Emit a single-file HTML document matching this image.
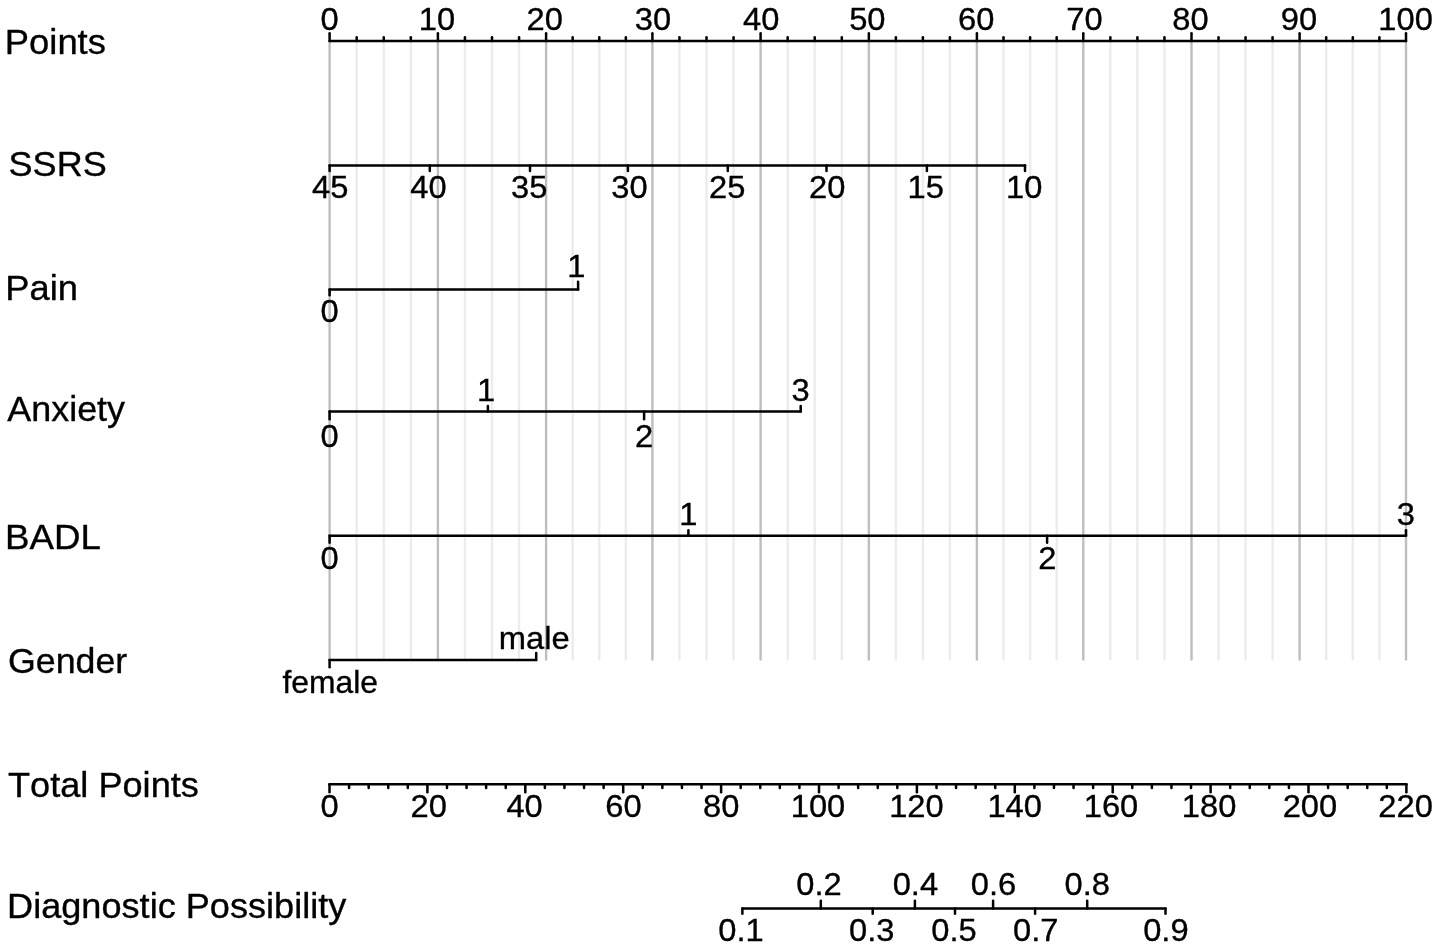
<!DOCTYPE html>
<html><head><meta charset="utf-8"><title>Nomogram</title>
<style>html,body{margin:0;padding:0;background:#fff;overflow:hidden;}svg{display:block;}
text{font-family:"Liberation Sans",Arial,sans-serif;font-kerning:none;fill:#000;stroke:#000;stroke-width:0.35px;}</style></head>
<body><svg width="1441" height="949" viewBox="0 0 1441 949">
<rect width="1441" height="949" fill="#fff"/>
<line x1="356.68" y1="41.00" x2="356.68" y2="659.40" stroke="#ececec" stroke-width="2.4" stroke-linecap="round"/>
<line x1="383.75" y1="41.00" x2="383.75" y2="659.40" stroke="#ececec" stroke-width="2.4" stroke-linecap="round"/>
<line x1="410.82" y1="41.00" x2="410.82" y2="659.40" stroke="#ececec" stroke-width="2.4" stroke-linecap="round"/>
<line x1="464.95" y1="41.00" x2="464.95" y2="659.40" stroke="#ececec" stroke-width="2.4" stroke-linecap="round"/>
<line x1="492.00" y1="41.00" x2="492.00" y2="659.40" stroke="#ececec" stroke-width="2.4" stroke-linecap="round"/>
<line x1="519.05" y1="41.00" x2="519.05" y2="659.40" stroke="#ececec" stroke-width="2.4" stroke-linecap="round"/>
<line x1="572.67" y1="41.00" x2="572.67" y2="659.40" stroke="#ececec" stroke-width="2.4" stroke-linecap="round"/>
<line x1="599.25" y1="41.00" x2="599.25" y2="659.40" stroke="#ececec" stroke-width="2.4" stroke-linecap="round"/>
<line x1="625.83" y1="41.00" x2="625.83" y2="659.40" stroke="#ececec" stroke-width="2.4" stroke-linecap="round"/>
<line x1="679.45" y1="41.00" x2="679.45" y2="659.40" stroke="#ececec" stroke-width="2.4" stroke-linecap="round"/>
<line x1="706.50" y1="41.00" x2="706.50" y2="659.40" stroke="#ececec" stroke-width="2.4" stroke-linecap="round"/>
<line x1="733.55" y1="41.00" x2="733.55" y2="659.40" stroke="#ececec" stroke-width="2.4" stroke-linecap="round"/>
<line x1="787.66" y1="41.00" x2="787.66" y2="659.40" stroke="#ececec" stroke-width="2.4" stroke-linecap="round"/>
<line x1="814.73" y1="41.00" x2="814.73" y2="659.40" stroke="#ececec" stroke-width="2.4" stroke-linecap="round"/>
<line x1="841.79" y1="41.00" x2="841.79" y2="659.40" stroke="#ececec" stroke-width="2.4" stroke-linecap="round"/>
<line x1="895.86" y1="41.00" x2="895.86" y2="659.40" stroke="#ececec" stroke-width="2.4" stroke-linecap="round"/>
<line x1="922.88" y1="41.00" x2="922.88" y2="659.40" stroke="#ececec" stroke-width="2.4" stroke-linecap="round"/>
<line x1="949.89" y1="41.00" x2="949.89" y2="659.40" stroke="#ececec" stroke-width="2.4" stroke-linecap="round"/>
<line x1="1003.50" y1="41.00" x2="1003.50" y2="659.40" stroke="#ececec" stroke-width="2.4" stroke-linecap="round"/>
<line x1="1030.10" y1="41.00" x2="1030.10" y2="659.40" stroke="#ececec" stroke-width="2.4" stroke-linecap="round"/>
<line x1="1056.70" y1="41.00" x2="1056.70" y2="659.40" stroke="#ececec" stroke-width="2.4" stroke-linecap="round"/>
<line x1="1110.35" y1="41.00" x2="1110.35" y2="659.40" stroke="#ececec" stroke-width="2.4" stroke-linecap="round"/>
<line x1="1137.40" y1="41.00" x2="1137.40" y2="659.40" stroke="#ececec" stroke-width="2.4" stroke-linecap="round"/>
<line x1="1164.45" y1="41.00" x2="1164.45" y2="659.40" stroke="#ececec" stroke-width="2.4" stroke-linecap="round"/>
<line x1="1218.53" y1="41.00" x2="1218.53" y2="659.40" stroke="#ececec" stroke-width="2.4" stroke-linecap="round"/>
<line x1="1245.55" y1="41.00" x2="1245.55" y2="659.40" stroke="#ececec" stroke-width="2.4" stroke-linecap="round"/>
<line x1="1272.57" y1="41.00" x2="1272.57" y2="659.40" stroke="#ececec" stroke-width="2.4" stroke-linecap="round"/>
<line x1="1326.20" y1="41.00" x2="1326.20" y2="659.40" stroke="#ececec" stroke-width="2.4" stroke-linecap="round"/>
<line x1="1352.80" y1="41.00" x2="1352.80" y2="659.40" stroke="#ececec" stroke-width="2.4" stroke-linecap="round"/>
<line x1="1379.40" y1="41.00" x2="1379.40" y2="659.40" stroke="#ececec" stroke-width="2.4" stroke-linecap="round"/>
<line x1="329.60" y1="41.00" x2="329.60" y2="659.40" stroke="#bebebe" stroke-width="2.4" stroke-linecap="round"/>
<line x1="437.90" y1="41.00" x2="437.90" y2="659.40" stroke="#bebebe" stroke-width="2.4" stroke-linecap="round"/>
<line x1="546.10" y1="41.00" x2="546.10" y2="659.40" stroke="#bebebe" stroke-width="2.4" stroke-linecap="round"/>
<line x1="652.40" y1="41.00" x2="652.40" y2="659.40" stroke="#bebebe" stroke-width="2.4" stroke-linecap="round"/>
<line x1="760.60" y1="41.00" x2="760.60" y2="659.40" stroke="#bebebe" stroke-width="2.4" stroke-linecap="round"/>
<line x1="868.85" y1="41.00" x2="868.85" y2="659.40" stroke="#bebebe" stroke-width="2.4" stroke-linecap="round"/>
<line x1="976.90" y1="41.00" x2="976.90" y2="659.40" stroke="#bebebe" stroke-width="2.4" stroke-linecap="round"/>
<line x1="1083.30" y1="41.00" x2="1083.30" y2="659.40" stroke="#bebebe" stroke-width="2.4" stroke-linecap="round"/>
<line x1="1191.50" y1="41.00" x2="1191.50" y2="659.40" stroke="#bebebe" stroke-width="2.4" stroke-linecap="round"/>
<line x1="1299.60" y1="41.00" x2="1299.60" y2="659.40" stroke="#bebebe" stroke-width="2.4" stroke-linecap="round"/>
<line x1="1406.00" y1="41.00" x2="1406.00" y2="659.40" stroke="#bebebe" stroke-width="2.4" stroke-linecap="round"/>
<line x1="329.60" y1="41.00" x2="1406.00" y2="41.00" stroke="#000" stroke-width="2.5" stroke-linecap="round"/>
<line x1="329.60" y1="41.00" x2="329.60" y2="33.35" stroke="#000" stroke-width="2.5" stroke-linecap="round"/>
<text transform="translate(329.50 29.50) scale(1.0450 1)" font-size="31.3" text-anchor="middle">0</text>
<line x1="356.68" y1="41.00" x2="356.68" y2="37.35" stroke="#000" stroke-width="2.5" stroke-linecap="round"/>
<line x1="383.75" y1="41.00" x2="383.75" y2="37.35" stroke="#000" stroke-width="2.5" stroke-linecap="round"/>
<line x1="410.82" y1="41.00" x2="410.82" y2="37.35" stroke="#000" stroke-width="2.5" stroke-linecap="round"/>
<line x1="437.90" y1="41.00" x2="437.90" y2="33.35" stroke="#000" stroke-width="2.5" stroke-linecap="round"/>
<text transform="translate(436.90 29.50) scale(1.0450 1)" font-size="31.3" text-anchor="middle">10</text>
<line x1="464.95" y1="41.00" x2="464.95" y2="37.35" stroke="#000" stroke-width="2.5" stroke-linecap="round"/>
<line x1="492.00" y1="41.00" x2="492.00" y2="37.35" stroke="#000" stroke-width="2.5" stroke-linecap="round"/>
<line x1="519.05" y1="41.00" x2="519.05" y2="37.35" stroke="#000" stroke-width="2.5" stroke-linecap="round"/>
<line x1="546.10" y1="41.00" x2="546.10" y2="33.35" stroke="#000" stroke-width="2.5" stroke-linecap="round"/>
<text transform="translate(544.80 29.50) scale(1.0450 1)" font-size="31.3" text-anchor="middle">20</text>
<line x1="572.67" y1="41.00" x2="572.67" y2="37.35" stroke="#000" stroke-width="2.5" stroke-linecap="round"/>
<line x1="599.25" y1="41.00" x2="599.25" y2="37.35" stroke="#000" stroke-width="2.5" stroke-linecap="round"/>
<line x1="625.83" y1="41.00" x2="625.83" y2="37.35" stroke="#000" stroke-width="2.5" stroke-linecap="round"/>
<line x1="652.40" y1="41.00" x2="652.40" y2="33.35" stroke="#000" stroke-width="2.5" stroke-linecap="round"/>
<text transform="translate(652.90 29.50) scale(1.0450 1)" font-size="31.3" text-anchor="middle">30</text>
<line x1="679.45" y1="41.00" x2="679.45" y2="37.35" stroke="#000" stroke-width="2.5" stroke-linecap="round"/>
<line x1="706.50" y1="41.00" x2="706.50" y2="37.35" stroke="#000" stroke-width="2.5" stroke-linecap="round"/>
<line x1="733.55" y1="41.00" x2="733.55" y2="37.35" stroke="#000" stroke-width="2.5" stroke-linecap="round"/>
<line x1="760.60" y1="41.00" x2="760.60" y2="33.35" stroke="#000" stroke-width="2.5" stroke-linecap="round"/>
<text transform="translate(761.20 29.50) scale(1.0450 1)" font-size="31.3" text-anchor="middle">40</text>
<line x1="787.66" y1="41.00" x2="787.66" y2="37.35" stroke="#000" stroke-width="2.5" stroke-linecap="round"/>
<line x1="814.73" y1="41.00" x2="814.73" y2="37.35" stroke="#000" stroke-width="2.5" stroke-linecap="round"/>
<line x1="841.79" y1="41.00" x2="841.79" y2="37.35" stroke="#000" stroke-width="2.5" stroke-linecap="round"/>
<line x1="868.85" y1="41.00" x2="868.85" y2="33.35" stroke="#000" stroke-width="2.5" stroke-linecap="round"/>
<text transform="translate(867.35 29.50) scale(1.0450 1)" font-size="31.3" text-anchor="middle">50</text>
<line x1="895.86" y1="41.00" x2="895.86" y2="37.35" stroke="#000" stroke-width="2.5" stroke-linecap="round"/>
<line x1="922.88" y1="41.00" x2="922.88" y2="37.35" stroke="#000" stroke-width="2.5" stroke-linecap="round"/>
<line x1="949.89" y1="41.00" x2="949.89" y2="37.35" stroke="#000" stroke-width="2.5" stroke-linecap="round"/>
<line x1="976.90" y1="41.00" x2="976.90" y2="33.35" stroke="#000" stroke-width="2.5" stroke-linecap="round"/>
<text transform="translate(976.30 29.50) scale(1.0450 1)" font-size="31.3" text-anchor="middle">60</text>
<line x1="1003.50" y1="41.00" x2="1003.50" y2="37.35" stroke="#000" stroke-width="2.5" stroke-linecap="round"/>
<line x1="1030.10" y1="41.00" x2="1030.10" y2="37.35" stroke="#000" stroke-width="2.5" stroke-linecap="round"/>
<line x1="1056.70" y1="41.00" x2="1056.70" y2="37.35" stroke="#000" stroke-width="2.5" stroke-linecap="round"/>
<line x1="1083.30" y1="41.00" x2="1083.30" y2="33.35" stroke="#000" stroke-width="2.5" stroke-linecap="round"/>
<text transform="translate(1084.50 29.50) scale(1.0450 1)" font-size="31.3" text-anchor="middle">70</text>
<line x1="1110.35" y1="41.00" x2="1110.35" y2="37.35" stroke="#000" stroke-width="2.5" stroke-linecap="round"/>
<line x1="1137.40" y1="41.00" x2="1137.40" y2="37.35" stroke="#000" stroke-width="2.5" stroke-linecap="round"/>
<line x1="1164.45" y1="41.00" x2="1164.45" y2="37.35" stroke="#000" stroke-width="2.5" stroke-linecap="round"/>
<line x1="1191.50" y1="41.00" x2="1191.50" y2="33.35" stroke="#000" stroke-width="2.5" stroke-linecap="round"/>
<text transform="translate(1190.50 29.50) scale(1.0450 1)" font-size="31.3" text-anchor="middle">80</text>
<line x1="1218.53" y1="41.00" x2="1218.53" y2="37.35" stroke="#000" stroke-width="2.5" stroke-linecap="round"/>
<line x1="1245.55" y1="41.00" x2="1245.55" y2="37.35" stroke="#000" stroke-width="2.5" stroke-linecap="round"/>
<line x1="1272.57" y1="41.00" x2="1272.57" y2="37.35" stroke="#000" stroke-width="2.5" stroke-linecap="round"/>
<line x1="1299.60" y1="41.00" x2="1299.60" y2="33.35" stroke="#000" stroke-width="2.5" stroke-linecap="round"/>
<text transform="translate(1299.00 29.50) scale(1.0450 1)" font-size="31.3" text-anchor="middle">90</text>
<line x1="1326.20" y1="41.00" x2="1326.20" y2="37.35" stroke="#000" stroke-width="2.5" stroke-linecap="round"/>
<line x1="1352.80" y1="41.00" x2="1352.80" y2="37.35" stroke="#000" stroke-width="2.5" stroke-linecap="round"/>
<line x1="1379.40" y1="41.00" x2="1379.40" y2="37.35" stroke="#000" stroke-width="2.5" stroke-linecap="round"/>
<line x1="1406.00" y1="41.00" x2="1406.00" y2="33.35" stroke="#000" stroke-width="2.5" stroke-linecap="round"/>
<text transform="translate(1405.60 29.50) scale(1.0450 1)" font-size="31.3" text-anchor="middle">100</text>
<line x1="329.60" y1="165.50" x2="1025.00" y2="165.50" stroke="#000" stroke-width="2.5" stroke-linecap="round"/>
<line x1="329.60" y1="165.50" x2="329.60" y2="170.95" stroke="#000" stroke-width="2.5" stroke-linecap="round"/>
<text transform="translate(330.20 198.00) scale(1.0450 1)" font-size="31.3" text-anchor="middle">45</text>
<line x1="429.80" y1="165.50" x2="429.80" y2="170.95" stroke="#000" stroke-width="2.5" stroke-linecap="round"/>
<text transform="translate(428.40 198.00) scale(1.0450 1)" font-size="31.3" text-anchor="middle">40</text>
<line x1="530.00" y1="165.50" x2="530.00" y2="170.95" stroke="#000" stroke-width="2.5" stroke-linecap="round"/>
<text transform="translate(529.20 198.00) scale(1.0450 1)" font-size="31.3" text-anchor="middle">35</text>
<line x1="627.90" y1="165.50" x2="627.90" y2="170.95" stroke="#000" stroke-width="2.5" stroke-linecap="round"/>
<text transform="translate(629.50 198.00) scale(1.0450 1)" font-size="31.3" text-anchor="middle">30</text>
<line x1="727.80" y1="165.50" x2="727.80" y2="170.95" stroke="#000" stroke-width="2.5" stroke-linecap="round"/>
<text transform="translate(727.20 198.00) scale(1.0450 1)" font-size="31.3" text-anchor="middle">25</text>
<line x1="826.50" y1="165.50" x2="826.50" y2="170.95" stroke="#000" stroke-width="2.5" stroke-linecap="round"/>
<text transform="translate(827.30 198.00) scale(1.0450 1)" font-size="31.3" text-anchor="middle">20</text>
<line x1="926.90" y1="165.50" x2="926.90" y2="170.95" stroke="#000" stroke-width="2.5" stroke-linecap="round"/>
<text transform="translate(925.80 198.00) scale(1.0450 1)" font-size="31.3" text-anchor="middle">15</text>
<line x1="1025.00" y1="165.50" x2="1025.00" y2="170.95" stroke="#000" stroke-width="2.5" stroke-linecap="round"/>
<text transform="translate(1024.30 198.00) scale(1.0450 1)" font-size="31.3" text-anchor="middle">10</text>
<line x1="329.60" y1="289.50" x2="578.10" y2="289.50" stroke="#000" stroke-width="2.5" stroke-linecap="round"/>
<line x1="329.60" y1="289.50" x2="329.60" y2="295.35" stroke="#000" stroke-width="2.5" stroke-linecap="round"/>
<text transform="translate(329.60 321.70) scale(1.0450 1)" font-size="31.3" text-anchor="middle">0</text>
<line x1="578.10" y1="289.50" x2="578.10" y2="281.85" stroke="#000" stroke-width="2.5" stroke-linecap="round"/>
<text transform="translate(576.30 276.60) scale(1.0450 1)" font-size="31.3" text-anchor="middle">1</text>
<line x1="329.60" y1="411.60" x2="800.70" y2="411.60" stroke="#000" stroke-width="2.5" stroke-linecap="round"/>
<line x1="329.60" y1="411.60" x2="329.60" y2="419.25" stroke="#000" stroke-width="2.5" stroke-linecap="round"/>
<text transform="translate(329.60 446.50) scale(1.0450 1)" font-size="31.3" text-anchor="middle">0</text>
<line x1="487.90" y1="411.60" x2="487.90" y2="406.05" stroke="#000" stroke-width="2.5" stroke-linecap="round"/>
<text transform="translate(486.00 400.50) scale(1.0450 1)" font-size="31.3" text-anchor="middle">1</text>
<line x1="644.10" y1="411.60" x2="644.10" y2="419.25" stroke="#000" stroke-width="2.5" stroke-linecap="round"/>
<text transform="translate(644.10 446.50) scale(1.0450 1)" font-size="31.3" text-anchor="middle">2</text>
<line x1="800.70" y1="411.60" x2="800.70" y2="406.05" stroke="#000" stroke-width="2.5" stroke-linecap="round"/>
<text transform="translate(800.70 400.50) scale(1.0450 1)" font-size="31.3" text-anchor="middle">3</text>
<line x1="329.60" y1="535.70" x2="1406.00" y2="535.70" stroke="#000" stroke-width="2.5" stroke-linecap="round"/>
<line x1="329.60" y1="535.70" x2="329.60" y2="542.85" stroke="#000" stroke-width="2.5" stroke-linecap="round"/>
<text transform="translate(329.60 568.60) scale(1.0450 1)" font-size="31.3" text-anchor="middle">0</text>
<line x1="688.40" y1="535.70" x2="688.40" y2="530.15" stroke="#000" stroke-width="2.5" stroke-linecap="round"/>
<text transform="translate(688.30 524.80) scale(1.0450 1)" font-size="31.3" text-anchor="middle">1</text>
<line x1="1047.10" y1="535.70" x2="1047.10" y2="542.85" stroke="#000" stroke-width="2.5" stroke-linecap="round"/>
<text transform="translate(1047.30 568.60) scale(1.0450 1)" font-size="31.3" text-anchor="middle">2</text>
<line x1="1406.00" y1="535.70" x2="1406.00" y2="530.15" stroke="#000" stroke-width="2.5" stroke-linecap="round"/>
<text transform="translate(1405.90 524.80) scale(1.0450 1)" font-size="31.3" text-anchor="middle">3</text>
<line x1="329.60" y1="659.90" x2="536.20" y2="659.90" stroke="#000" stroke-width="2.5" stroke-linecap="round"/>
<line x1="329.60" y1="659.90" x2="329.60" y2="667.35" stroke="#000" stroke-width="2.5" stroke-linecap="round"/>
<text transform="translate(330.20 692.80) scale(1.0168 1)" font-size="31.3" text-anchor="middle">female</text>
<line x1="536.20" y1="659.90" x2="536.20" y2="652.95" stroke="#000" stroke-width="2.5" stroke-linecap="round"/>
<text transform="translate(534.30 648.90) scale(1.0450 1)" font-size="31.3" text-anchor="middle">male</text>
<line x1="329.50" y1="784.20" x2="1406.40" y2="784.20" stroke="#000" stroke-width="2.5" stroke-linecap="round"/>
<line x1="329.50" y1="784.20" x2="329.50" y2="792.15" stroke="#000" stroke-width="2.5" stroke-linecap="round"/>
<text transform="translate(329.60 817.00) scale(1.0450 1)" font-size="31.3" text-anchor="middle">0</text>
<line x1="349.08" y1="784.20" x2="349.08" y2="788.05" stroke="#000" stroke-width="2.5" stroke-linecap="round"/>
<line x1="368.66" y1="784.20" x2="368.66" y2="788.05" stroke="#000" stroke-width="2.5" stroke-linecap="round"/>
<line x1="388.24" y1="784.20" x2="388.24" y2="788.05" stroke="#000" stroke-width="2.5" stroke-linecap="round"/>
<line x1="407.82" y1="784.20" x2="407.82" y2="788.05" stroke="#000" stroke-width="2.5" stroke-linecap="round"/>
<line x1="427.40" y1="784.20" x2="427.40" y2="792.15" stroke="#000" stroke-width="2.5" stroke-linecap="round"/>
<text transform="translate(428.70 817.00) scale(1.0450 1)" font-size="31.3" text-anchor="middle">20</text>
<line x1="446.98" y1="784.20" x2="446.98" y2="788.05" stroke="#000" stroke-width="2.5" stroke-linecap="round"/>
<line x1="466.56" y1="784.20" x2="466.56" y2="788.05" stroke="#000" stroke-width="2.5" stroke-linecap="round"/>
<line x1="486.14" y1="784.20" x2="486.14" y2="788.05" stroke="#000" stroke-width="2.5" stroke-linecap="round"/>
<line x1="505.72" y1="784.20" x2="505.72" y2="788.05" stroke="#000" stroke-width="2.5" stroke-linecap="round"/>
<line x1="525.30" y1="784.20" x2="525.30" y2="792.15" stroke="#000" stroke-width="2.5" stroke-linecap="round"/>
<text transform="translate(524.60 817.00) scale(1.0450 1)" font-size="31.3" text-anchor="middle">40</text>
<line x1="544.88" y1="784.20" x2="544.88" y2="788.05" stroke="#000" stroke-width="2.5" stroke-linecap="round"/>
<line x1="564.46" y1="784.20" x2="564.46" y2="788.05" stroke="#000" stroke-width="2.5" stroke-linecap="round"/>
<line x1="584.04" y1="784.20" x2="584.04" y2="788.05" stroke="#000" stroke-width="2.5" stroke-linecap="round"/>
<line x1="603.62" y1="784.20" x2="603.62" y2="788.05" stroke="#000" stroke-width="2.5" stroke-linecap="round"/>
<line x1="623.20" y1="784.20" x2="623.20" y2="792.15" stroke="#000" stroke-width="2.5" stroke-linecap="round"/>
<text transform="translate(623.50 817.00) scale(1.0450 1)" font-size="31.3" text-anchor="middle">60</text>
<line x1="642.78" y1="784.20" x2="642.78" y2="788.05" stroke="#000" stroke-width="2.5" stroke-linecap="round"/>
<line x1="662.36" y1="784.20" x2="662.36" y2="788.05" stroke="#000" stroke-width="2.5" stroke-linecap="round"/>
<line x1="681.94" y1="784.20" x2="681.94" y2="788.05" stroke="#000" stroke-width="2.5" stroke-linecap="round"/>
<line x1="701.52" y1="784.20" x2="701.52" y2="788.05" stroke="#000" stroke-width="2.5" stroke-linecap="round"/>
<line x1="721.10" y1="784.20" x2="721.10" y2="792.15" stroke="#000" stroke-width="2.5" stroke-linecap="round"/>
<text transform="translate(721.20 817.00) scale(1.0450 1)" font-size="31.3" text-anchor="middle">80</text>
<line x1="740.68" y1="784.20" x2="740.68" y2="788.05" stroke="#000" stroke-width="2.5" stroke-linecap="round"/>
<line x1="760.26" y1="784.20" x2="760.26" y2="788.05" stroke="#000" stroke-width="2.5" stroke-linecap="round"/>
<line x1="779.84" y1="784.20" x2="779.84" y2="788.05" stroke="#000" stroke-width="2.5" stroke-linecap="round"/>
<line x1="799.42" y1="784.20" x2="799.42" y2="788.05" stroke="#000" stroke-width="2.5" stroke-linecap="round"/>
<line x1="819.00" y1="784.20" x2="819.00" y2="792.15" stroke="#000" stroke-width="2.5" stroke-linecap="round"/>
<text transform="translate(818.00 817.00) scale(1.0450 1)" font-size="31.3" text-anchor="middle">100</text>
<line x1="838.58" y1="784.20" x2="838.58" y2="788.05" stroke="#000" stroke-width="2.5" stroke-linecap="round"/>
<line x1="858.16" y1="784.20" x2="858.16" y2="788.05" stroke="#000" stroke-width="2.5" stroke-linecap="round"/>
<line x1="877.74" y1="784.20" x2="877.74" y2="788.05" stroke="#000" stroke-width="2.5" stroke-linecap="round"/>
<line x1="897.32" y1="784.20" x2="897.32" y2="788.05" stroke="#000" stroke-width="2.5" stroke-linecap="round"/>
<line x1="916.90" y1="784.20" x2="916.90" y2="792.15" stroke="#000" stroke-width="2.5" stroke-linecap="round"/>
<text transform="translate(916.40 817.00) scale(1.0450 1)" font-size="31.3" text-anchor="middle">120</text>
<line x1="936.48" y1="784.20" x2="936.48" y2="788.05" stroke="#000" stroke-width="2.5" stroke-linecap="round"/>
<line x1="956.06" y1="784.20" x2="956.06" y2="788.05" stroke="#000" stroke-width="2.5" stroke-linecap="round"/>
<line x1="975.64" y1="784.20" x2="975.64" y2="788.05" stroke="#000" stroke-width="2.5" stroke-linecap="round"/>
<line x1="995.22" y1="784.20" x2="995.22" y2="788.05" stroke="#000" stroke-width="2.5" stroke-linecap="round"/>
<line x1="1014.80" y1="784.20" x2="1014.80" y2="792.15" stroke="#000" stroke-width="2.5" stroke-linecap="round"/>
<text transform="translate(1014.70 817.00) scale(1.0450 1)" font-size="31.3" text-anchor="middle">140</text>
<line x1="1034.38" y1="784.20" x2="1034.38" y2="788.05" stroke="#000" stroke-width="2.5" stroke-linecap="round"/>
<line x1="1053.96" y1="784.20" x2="1053.96" y2="788.05" stroke="#000" stroke-width="2.5" stroke-linecap="round"/>
<line x1="1073.54" y1="784.20" x2="1073.54" y2="788.05" stroke="#000" stroke-width="2.5" stroke-linecap="round"/>
<line x1="1093.12" y1="784.20" x2="1093.12" y2="788.05" stroke="#000" stroke-width="2.5" stroke-linecap="round"/>
<line x1="1112.70" y1="784.20" x2="1112.70" y2="792.15" stroke="#000" stroke-width="2.5" stroke-linecap="round"/>
<text transform="translate(1111.00 817.00) scale(1.0450 1)" font-size="31.3" text-anchor="middle">160</text>
<line x1="1132.28" y1="784.20" x2="1132.28" y2="788.05" stroke="#000" stroke-width="2.5" stroke-linecap="round"/>
<line x1="1151.86" y1="784.20" x2="1151.86" y2="788.05" stroke="#000" stroke-width="2.5" stroke-linecap="round"/>
<line x1="1171.44" y1="784.20" x2="1171.44" y2="788.05" stroke="#000" stroke-width="2.5" stroke-linecap="round"/>
<line x1="1191.02" y1="784.20" x2="1191.02" y2="788.05" stroke="#000" stroke-width="2.5" stroke-linecap="round"/>
<line x1="1210.60" y1="784.20" x2="1210.60" y2="792.15" stroke="#000" stroke-width="2.5" stroke-linecap="round"/>
<text transform="translate(1209.10 817.00) scale(1.0450 1)" font-size="31.3" text-anchor="middle">180</text>
<line x1="1230.18" y1="784.20" x2="1230.18" y2="788.05" stroke="#000" stroke-width="2.5" stroke-linecap="round"/>
<line x1="1249.76" y1="784.20" x2="1249.76" y2="788.05" stroke="#000" stroke-width="2.5" stroke-linecap="round"/>
<line x1="1269.34" y1="784.20" x2="1269.34" y2="788.05" stroke="#000" stroke-width="2.5" stroke-linecap="round"/>
<line x1="1288.92" y1="784.20" x2="1288.92" y2="788.05" stroke="#000" stroke-width="2.5" stroke-linecap="round"/>
<line x1="1308.50" y1="784.20" x2="1308.50" y2="792.15" stroke="#000" stroke-width="2.5" stroke-linecap="round"/>
<text transform="translate(1309.90 817.00) scale(1.0450 1)" font-size="31.3" text-anchor="middle">200</text>
<line x1="1328.08" y1="784.20" x2="1328.08" y2="788.05" stroke="#000" stroke-width="2.5" stroke-linecap="round"/>
<line x1="1347.66" y1="784.20" x2="1347.66" y2="788.05" stroke="#000" stroke-width="2.5" stroke-linecap="round"/>
<line x1="1367.24" y1="784.20" x2="1367.24" y2="788.05" stroke="#000" stroke-width="2.5" stroke-linecap="round"/>
<line x1="1386.82" y1="784.20" x2="1386.82" y2="788.05" stroke="#000" stroke-width="2.5" stroke-linecap="round"/>
<line x1="1406.40" y1="784.20" x2="1406.40" y2="792.15" stroke="#000" stroke-width="2.5" stroke-linecap="round"/>
<text transform="translate(1405.60 817.00) scale(1.0450 1)" font-size="31.3" text-anchor="middle">220</text>
<line x1="742.40" y1="908.40" x2="1165.50" y2="908.40" stroke="#000" stroke-width="2.5" stroke-linecap="round"/>
<line x1="742.40" y1="908.40" x2="742.40" y2="913.65" stroke="#000" stroke-width="2.5" stroke-linecap="round"/>
<text transform="translate(741.00 941.20) scale(1.0450 1)" font-size="31.3" text-anchor="middle">0.1</text>
<line x1="820.80" y1="908.40" x2="820.80" y2="900.85" stroke="#000" stroke-width="2.5" stroke-linecap="round"/>
<text transform="translate(819.05 895.30) scale(1.0450 1)" font-size="31.3" text-anchor="middle">0.2</text>
<line x1="872.70" y1="908.40" x2="872.70" y2="913.65" stroke="#000" stroke-width="2.5" stroke-linecap="round"/>
<text transform="translate(871.70 941.20) scale(1.0450 1)" font-size="31.3" text-anchor="middle">0.3</text>
<line x1="914.90" y1="908.40" x2="914.90" y2="900.85" stroke="#000" stroke-width="2.5" stroke-linecap="round"/>
<text transform="translate(915.40 895.30) scale(1.0450 1)" font-size="31.3" text-anchor="middle">0.4</text>
<line x1="955.00" y1="908.40" x2="955.00" y2="913.65" stroke="#000" stroke-width="2.5" stroke-linecap="round"/>
<text transform="translate(954.00 941.20) scale(1.0450 1)" font-size="31.3" text-anchor="middle">0.5</text>
<line x1="993.10" y1="908.40" x2="993.10" y2="900.85" stroke="#000" stroke-width="2.5" stroke-linecap="round"/>
<text transform="translate(993.50 895.30) scale(1.0450 1)" font-size="31.3" text-anchor="middle">0.6</text>
<line x1="1035.10" y1="908.40" x2="1035.10" y2="913.65" stroke="#000" stroke-width="2.5" stroke-linecap="round"/>
<text transform="translate(1035.80 941.20) scale(1.0450 1)" font-size="31.3" text-anchor="middle">0.7</text>
<line x1="1087.20" y1="908.40" x2="1087.20" y2="900.85" stroke="#000" stroke-width="2.5" stroke-linecap="round"/>
<text transform="translate(1087.20 895.30) scale(1.0450 1)" font-size="31.3" text-anchor="middle">0.8</text>
<line x1="1165.50" y1="908.40" x2="1165.50" y2="913.65" stroke="#000" stroke-width="2.5" stroke-linecap="round"/>
<text transform="translate(1165.85 941.20) scale(1.0450 1)" font-size="31.3" text-anchor="middle">0.9</text>
<text transform="translate(4.81 54.00) scale(1.0397 1)" font-size="35.0" text-anchor="start">Points</text>
<text transform="translate(8.56 176.00) scale(1.0298 1)" font-size="35.0" text-anchor="start">SSRS</text>
<text transform="translate(5.22 300.40) scale(1.0375 1)" font-size="35.0" text-anchor="start">Pain</text>
<text transform="translate(7.33 420.60) scale(1.0261 1)" font-size="35.0" text-anchor="start">Anxiety</text>
<text transform="translate(4.99 548.60) scale(1.0484 1)" font-size="35.0" text-anchor="start">BADL</text>
<text transform="translate(8.00 672.70) scale(1.0215 1)" font-size="35.0" text-anchor="start">Gender</text>
<text transform="translate(7.99 796.90) scale(1.0330 1)" font-size="35.0" text-anchor="start">Total Points</text>
<text transform="translate(7.04 917.60) scale(1.0326 1)" font-size="35.0" text-anchor="start">Diagnostic Possibility</text>
</svg></body></html>
